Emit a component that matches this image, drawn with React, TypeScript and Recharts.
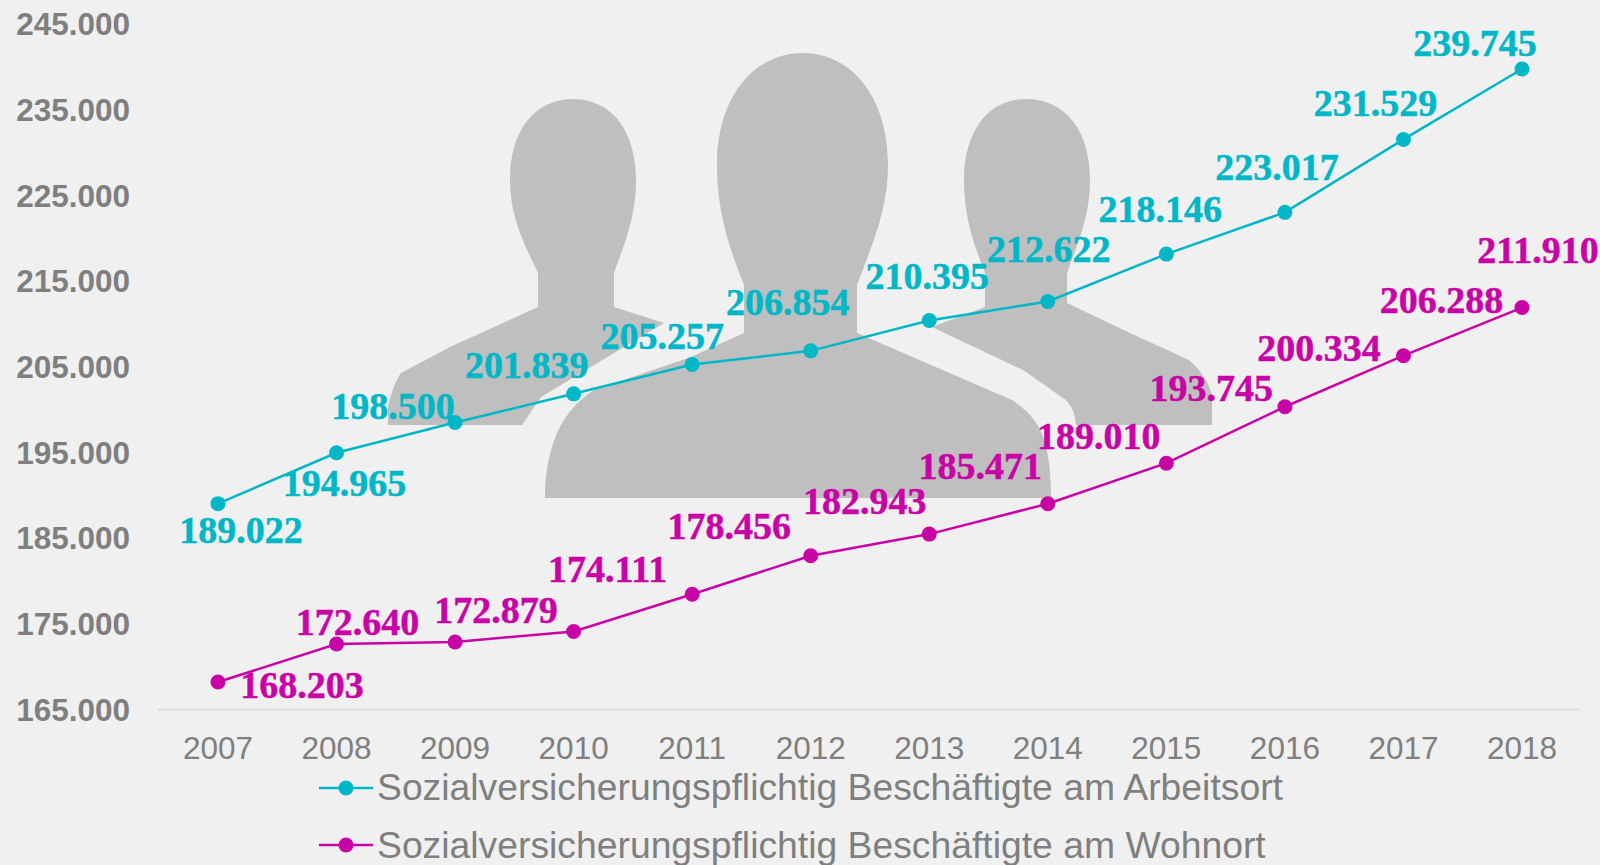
import React from "react";
import { LineChart, Line, XAxis, YAxis, Legend, LabelList } from "recharts";

const years = ["2007","2008","2009","2010","2011","2012","2013","2014","2015","2016","2017","2018"];
const arbeitsort = [189022,194965,198500,201839,205257,206854,210395,212622,218146,223017,231529,239745];
const wohnort = [168203,172640,172879,174111,178456,182943,185471,189010,193745,200334,206288,211910];
const yTicks = [165000,175000,185000,195000,205000,215000,225000,235000,245000];
const nameA = "Sozialversicherungspflichtig Beschäftigte am Arbeitsort";
const nameW = "Sozialversicherungspflichtig Beschäftigte am Wohnort";

const TEAL = "#00b7c8";
const MAGENTA = "#c904a6";
const GREY = "#7f7f7f";
const SANS = "'Liberation Sans', Arial, sans-serif";
const SERIF = "'Liberation Serif', serif";

const offsetsA = [[23,26],[8,30],[-62,-16],[-47,-29],[-30,-28],[-23,-49],[-2,-44],[1,-52],[-6,-45],[-8,-45],[-28,-36],[-47,-26]];
const offsetsW = [[84,3],[21,-22],[41,-32],[34,-62],[37,-68],[54,-55],[51,-68],[51,-68],[45,-75],[34,-59],[38,-56],[16,-57]];

const rows = years.map((year, i) => ({ year, arbeitsort: arbeitsort[i], wohnort: wohnort[i] }));
const fmt = (v: number) => new Intl.NumberFormat("de-DE").format(v);

const makeLabel = (offsets: number[][], color: string) => (p: any) => {
  const [dx, dy] = offsets[p.index];
  return (
    <text x={p.x + dx} y={p.y + dy} dy="0.34em" textAnchor="middle" fill={color}
      stroke={color} strokeWidth={0.5}
      style={{ fontFamily: SERIF, fontWeight: 700, fontSize: 38 }}>
      {fmt(p.value)}
    </text>
  );
};

const LegendBox = () => (
  <div style={{ fontFamily: SANS, fontSize: 37.3, color: GREY, lineHeight: "57.5px", whiteSpace: "nowrap" }}>
    {[[nameA, TEAL], [nameW, MAGENTA]].map(([n, c]) => (
      <div key={n} style={{ display: "flex", alignItems: "center", height: 57.5 }}>
        <svg width={58} height={20} style={{ flex: "none" }}>
          <line x1={0} x2={54} y1={10} y2={10} stroke={c} strokeWidth={2.5} />
          <circle cx={27} cy={10} r={7.5} fill={c} />
        </svg>
        <span>{n}</span>
      </div>
    ))}
  </div>
);

const Silhouettes = () => (
  <svg width={1600} height={865} style={{ position: "absolute", left: 0, top: 0 }}>
    <g fill="#bfbfbf">
      <path d="M538,307 L538,273 C522,240 510,215 510,180 C510,130 535,99 573,99 C611,99 636,130 636,180 C636,215 626,240 614,273 L614,307 L664,323 L541,397 L522,425 L388,425 L388,407 C392,390 396,380 401,373 L450,347 Z" />
      <path d="M985,307 L985,273 C972,240 964,215 964,180 C964,130 989,99 1026,99 C1065,99 1090,130 1090,180 C1090,215 1079,240 1067,273 L1067,303 L1130,333 L1189,360 C1200,370 1208,380 1212,395 L1212,425 L1076,425 C1075,410 1070,405 1066,400 L1023,370 L932,327 Z" />
      <path d="M744,333 L744,285 C728,245 717,210 717,165 C717,95 755,53 803,53 C850,53 888,95 888,165 C888,210 872,245 857,285 L857,333 L1012,400 C1030,412 1040,425 1044,440 C1049,455 1051,475 1051,498 L545,498 C545,475 548,455 557,433 C565,415 578,400 594,390 L691,357 Z" />
    </g>
  </svg>
);

export default function App() {
  return (
    <div style={{ position: "absolute", left: 0, top: 0, width: 1600, height: 865, background: "#f0f0f0", overflow: "hidden" }}>
      <Silhouettes />
      <div style={{ position: "absolute", left: 0, top: 0 }}>
        <LineChart width={1600} height={865} data={rows} margin={{ top: 24, right: 20, bottom: 0, left: 0 }}>
          <XAxis dataKey="year" padding={{ left: 60, right: 58 }} tickLine={false} interval={0}
            axisLine={{ stroke: "#e0e0e0", strokeWidth: 2.5 }} height={40.5} tickMargin={21}
            tick={{ fill: GREY, fontFamily: SANS, fontSize: 31.5 }} />
          <YAxis type="number" domain={[165000, 245000]} ticks={yTicks} width={158} axisLine={false} tickLine={false}
            tickSize={0} tickMargin={28} tickFormatter={fmt} interval={0}
            tick={{ fill: GREY, fontFamily: SANS, fontSize: 31.5, fontWeight: 700 }} />
          <Legend verticalAlign="bottom" content={<LegendBox />}
            wrapperStyle={{ position: "absolute", left: 319, top: 759, width: "auto", bottom: "auto" }} />
          <Line dataKey="arbeitsort" name={nameA} stroke={TEAL} strokeWidth={2.5} isAnimationActive={false}
            dot={{ r: 7.5, fill: TEAL, stroke: TEAL, strokeWidth: 0 }}>
            <LabelList dataKey="arbeitsort" content={makeLabel(offsetsA, TEAL)} />
          </Line>
          <Line dataKey="wohnort" name={nameW} stroke={MAGENTA} strokeWidth={2.5} isAnimationActive={false}
            dot={{ r: 7.5, fill: MAGENTA, stroke: MAGENTA, strokeWidth: 0 }}>
            <LabelList dataKey="wohnort" content={makeLabel(offsetsW, MAGENTA)} />
          </Line>
        </LineChart>
      </div>
    </div>
  );
}
